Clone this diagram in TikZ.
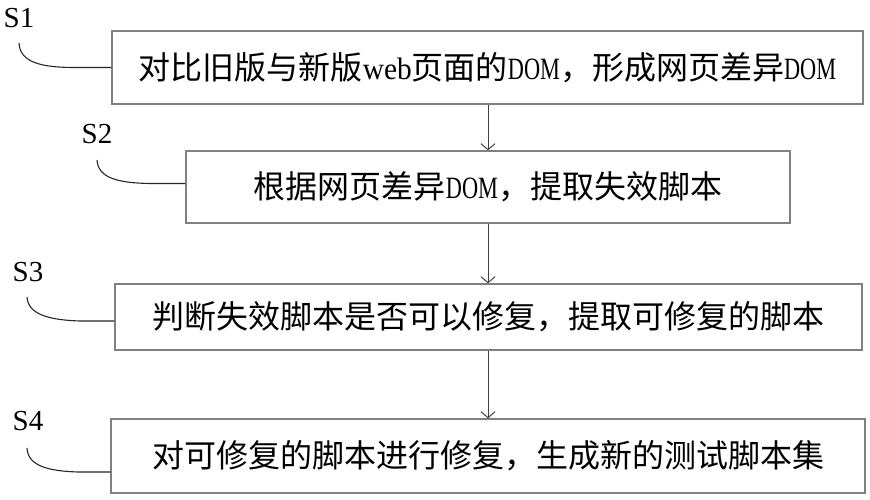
\documentclass[tikz,border=0pt]{standalone}
\usepackage{fontspec}
\setmainfont{Liberation Serif}
\newfontfamily\cjk{Noto Sans CJK SC}
\newcommand\latn[2][0.72]{\scalebox{#1}[1]{\fontsize{31}{34}\selectfont #2}}
\usetikzlibrary{arrows.meta}
\tikzset{
  stepbox/.style={draw=black!50, line width=1.3pt, minimum height=#1, inner sep=0pt, font=\fontsize{32}{36}\selectfont},
  lbl/.style={font=\fontsize{29}{32}\selectfont, inner sep=0pt},
  flow/.style={draw=black!75, line width=1pt, -{Straight Barb[length=6pt,width=14pt,line width=1pt]}},
  lead/.style={draw=black!85, line width=1.1pt}
}
\begin{document}
\begin{tikzpicture}[x=1pt,y=-1pt]
\useasboundingbox (0,0) rectangle (870,500);
\node[stepbox=73pt, minimum width=751pt] (b1) at (487.5,67.5)
  {{\cjk 对比旧版与新版}\latn[0.95]{web}{\cjk 页面的}\latn{DOM}{\cjk ，形成网页差异}\latn{DOM}};
\node[stepbox=72pt, minimum width=604pt] (b2) at (488,187)
  {{\cjk 根据网页差异}\latn{DOM}{\cjk ，提取失效脚本}};
\node[stepbox=66pt, minimum width=747pt] (b3) at (488.5,317)
  {{\cjk 判断失效脚本是否可以修复，提取可修复的脚本}};
\node[stepbox=74pt, minimum width=754pt] (b4) at (488,456)
  {{\cjk 对可修复的脚本进行修复，生成新的测试脚本集}};
\draw[flow] (b1.south -| 488,0) -- (b2.north -| 488,0);
\draw[flow] (b2.south -| 488,0) -- (b3.north -| 488,0);
\draw[flow] (b3.south -| 488,0) -- (b4.north -| 488,0);
\node[lbl] (s1) at (19,18) {S1};
\node[lbl] (s2) at (97,134) {S2};
\node[lbl] (s3) at (28,272) {S3};
\node[lbl] (s4) at (28,421) {S4};
\coordinate (c1) at (19,43);
\coordinate (c2) at (97,160);
\coordinate (c3) at (27,297);
\coordinate (c4) at (27,448);
\draw[lead] (c1) .. controls (20,62) and (40,67.5) .. (75,67.5) -- (b1.west);
\draw[lead] (c2) .. controls (98,178) and (118,183) .. (150,183.5) -- (b2.west |- 0,183.5);
\draw[lead] (c3) .. controls (28,314) and (48,320) .. (80,321) -- (b3.west |- 0,321);
\draw[lead] (c4) .. controls (28,466) and (48,471) .. (78,472) -- (b4.west |- 0,472);
\end{tikzpicture}
\end{document}
